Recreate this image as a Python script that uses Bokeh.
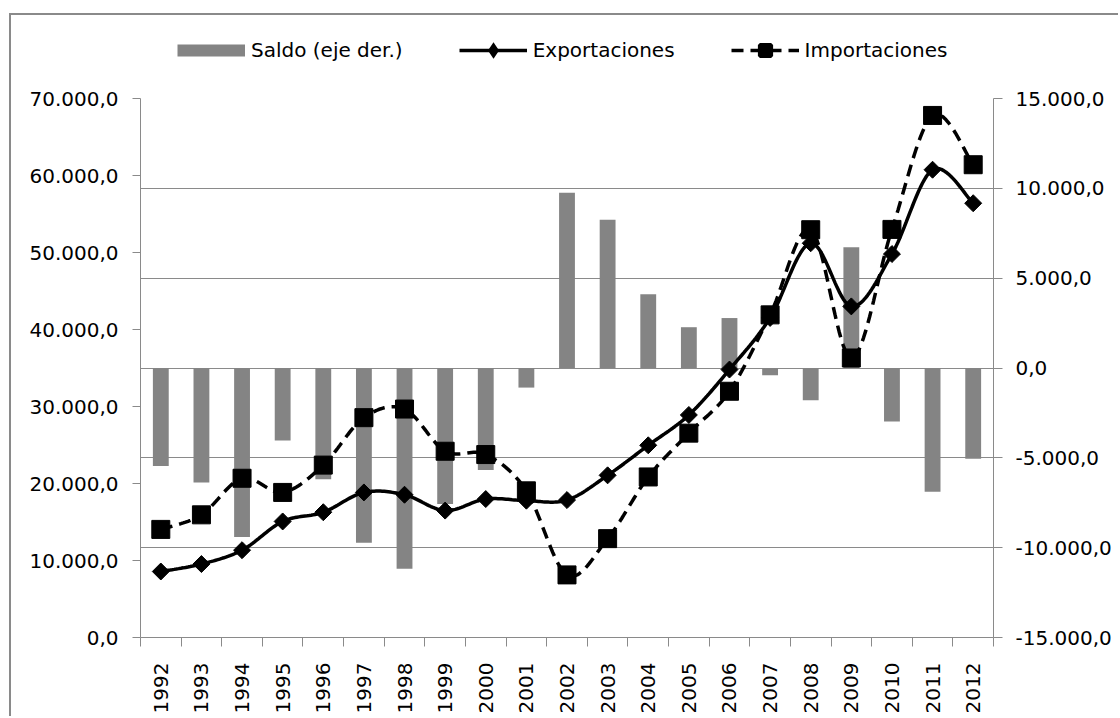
import math
import numpy as np
from bokeh.plotting import figure
from bokeh.layouts import column
from bokeh.models import (Range1d, LinearAxis, FixedTicker, Grid, Legend, LegendItem,
                          InlineStyleSheet)
from bokeh.embed import file_html
from bokeh.resources import INLINE

# ---------------- data ----------------
years = [1992, 1993, 1994, 1995, 1996, 1997, 1998, 1999, 2000, 2001, 2002,
         2003, 2004, 2005, 2006, 2007, 2008, 2009, 2010, 2011, 2012]
exportaciones = [8570, 9540, 11340, 15070, 16270, 18840, 18540, 16480, 17980, 17770, 17850,
                 21060, 24960, 28900, 34800, 41500, 51200, 43000, 49800, 60750, 56400]
importaciones = [14040, 15930, 20680, 18840, 22390, 28550, 29670, 24190, 23760, 19050, 8130,
                 12840, 20850, 26540, 31980, 41900, 52960, 36300, 53000, 67800, 61400]
saldo = [-5460, -6370, -9400, -4030, -6190, -9730, -11180, -7570, -5680, -1090, 9750,
         8250, 4100, 2270, 2780, -410, -1790, 6720, -2980, -6890, -5050]
left_ticks = [0, 10000, 20000, 30000, 40000, 50000, 60000, 70000]
right_ticks = [-15000, -10000, -5000, 0, 5000, 10000, 15000]
series_names = ["Saldo (eje der.)", "Exportaciones", "Importaciones"]

FONT = "DejaVu Sans"
GRAY = "#8a8a8a"
BAR = "#848484"
NAN = [float("nan")]


def fmt_es(v):
    s = f"{v:,.1f}"
    return s.replace(",", "X").replace(".", ",").replace("X", ".")


def smooth(xs, ys, n=20):
    """Excel-like smoothed line (Catmull-Rom style Bezier through the points)."""
    pts = np.column_stack([np.asarray(xs, float), np.asarray(ys, float)])
    m = len(pts)
    out = [pts[0]]
    t = np.linspace(0, 1, n + 1)[1:, None]
    for i in range(m - 1):
        p0 = pts[i - 1] if i > 0 else pts[i]
        p1 = pts[i]
        p2 = pts[i + 1]
        p3 = pts[i + 2] if i + 2 < m else pts[i + 1]
        c1 = p1 + (p2 - p0) / 6.0
        c2 = p2 - (p3 - p1) / 6.0
        seg = ((1 - t) ** 3) * p1 + 3 * ((1 - t) ** 2) * t * c1 + 3 * (1 - t) * t ** 2 * c2 + t ** 3 * p2
        out.extend(seg)
    out = np.array(out)
    return out[:, 0], out[:, 1]


# ---------------- main chart ----------------
p = figure(width=1118, height=630, output_backend="svg", toolbar_location=None,
           x_range=Range1d(years[0] - 0.5, years[-1] + 0.5),
           y_range=Range1d(left_ticks[0], left_ticks[-1]),
           min_border_left=140, min_border_right=125, min_border_top=12, min_border_bottom=73,
           outline_line_color=None, background_fill_color="white", border_fill_color="white")

p.extra_y_ranges = {"right": Range1d(right_ticks[0], right_ticks[-1])}

p.xgrid.visible = False
p.ygrid.visible = False
p.add_layout(Grid(dimension=1, ticker=FixedTicker(ticks=right_ticks), y_range_name="right",
                  grid_line_color=GRAY, grid_line_width=1))

# x axis
xa = p.xaxis[0]
xa.ticker = FixedTicker(ticks=years, minor_ticks=[y - 0.5 for y in years] + [years[-1] + 0.5])
xa.major_label_overrides = {y: str(y) for y in years}
xa.major_label_orientation = math.pi / 2
xa.major_tick_out = 0
xa.major_tick_in = 0
xa.minor_tick_out = 9
xa.minor_tick_in = 0
xa.minor_tick_line_color = GRAY
xa.axis_line_color = GRAY
xa.major_label_standoff = 16
xa.major_label_text_font = FONT
xa.major_label_text_font_size = "20px"
xa.major_label_text_color = "black"

# left axis
ya = p.yaxis[0]
ya.ticker = FixedTicker(ticks=left_ticks)
ya.major_label_overrides = {v: fmt_es(v) for v in left_ticks}
ya.major_tick_out = 8
ya.major_tick_in = 0
ya.minor_tick_out = 0
ya.minor_tick_in = 0
ya.major_tick_line_color = GRAY
ya.axis_line_color = GRAY
ya.major_label_standoff = 14
ya.major_label_text_font = FONT
ya.major_label_text_font_size = "20px"
ya.major_label_text_color = "black"

# right axis
ra = LinearAxis(y_range_name="right", ticker=FixedTicker(ticks=right_ticks),
                major_label_overrides={v: fmt_es(v) for v in right_ticks},
                major_tick_out=9, major_tick_in=0, minor_tick_out=0, minor_tick_in=0,
                major_tick_line_color=GRAY, axis_line_color=GRAY,
                major_label_standoff=13, major_label_text_font=FONT,
                major_label_text_font_size="20px", major_label_text_color="black")
p.add_layout(ra, "right")

# bars (right axis)
p.vbar(x=years, top=saldo, bottom=0, width=0.39, y_range_name="right",
       fill_color=BAR, line_color=None)

# lines
ix, iy = smooth(years, importaciones)
p.line(ix, iy, line_color="black", line_width=3.5, line_dash="12 7")
p.scatter(years, importaciones, marker="square", size=18, color="black")

ex, ey = smooth(years, exportaciones)
p.line(ex, ey, line_color="black", line_width=3.5)
p.scatter(years, exportaciones, marker="square", angle=math.pi / 4, size=12, color="black")

# ---------------- legend strip ----------------
lf = figure(width=1118, height=86, output_backend="svg", toolbar_location=None,
            x_range=Range1d(0, 1), y_range=Range1d(0, 1),
            min_border_left=0, min_border_right=0, min_border_top=0, min_border_bottom=0,
            outline_line_color=None, background_fill_color="white", border_fill_color="white")
lf.xaxis.visible = False
lf.yaxis.visible = False
lf.xgrid.visible = False
lf.ygrid.visible = False

saldo_sw = lf.line(NAN, NAN, line_color=BAR, line_width=12)
exp_l = lf.line(NAN, NAN, line_color="black", line_width=3.5)
exp_m = lf.scatter(NAN, NAN, marker="diamond", fill_color="black", line_color="black",
                   line_width=3, line_join="miter")
imp_l = lf.line(NAN, NAN, line_color="black", line_width=3.5, line_dash="12 7")
imp_m = lf.scatter(NAN, NAN, marker="square", fill_color="black", line_color="black", line_width=4)

legend = Legend(items=[LegendItem(label=series_names[0], renderers=[saldo_sw]),
                       LegendItem(label=series_names[1], renderers=[exp_l, exp_m]),
                       LegendItem(label=series_names[2], renderers=[imp_l, imp_m])],
                location=(37, 22), orientation="horizontal",
                glyph_width=68, glyph_height=28, label_standoff=6, spacing=56,
                padding=0, margin=0, border_line_color=None, background_fill_alpha=0,
                label_text_font=FONT, label_text_font_size="20px", label_text_color="black")
lf.add_layout(legend)

layout = column(lf, p, spacing=0)
# outer chart-area border (left and top edges visible in the reference)
layout.stylesheets = [InlineStyleSheet(css=(
    ":host{position:relative;}"
    ":host::after{content:'';position:absolute;left:9px;top:13px;right:0;bottom:0;"
    "border-left:2px solid #8a8a8a;border-top:2px solid #8a8a8a;pointer-events:none;}"))]

open("out.html", "w").write(file_html(layout, INLINE))
